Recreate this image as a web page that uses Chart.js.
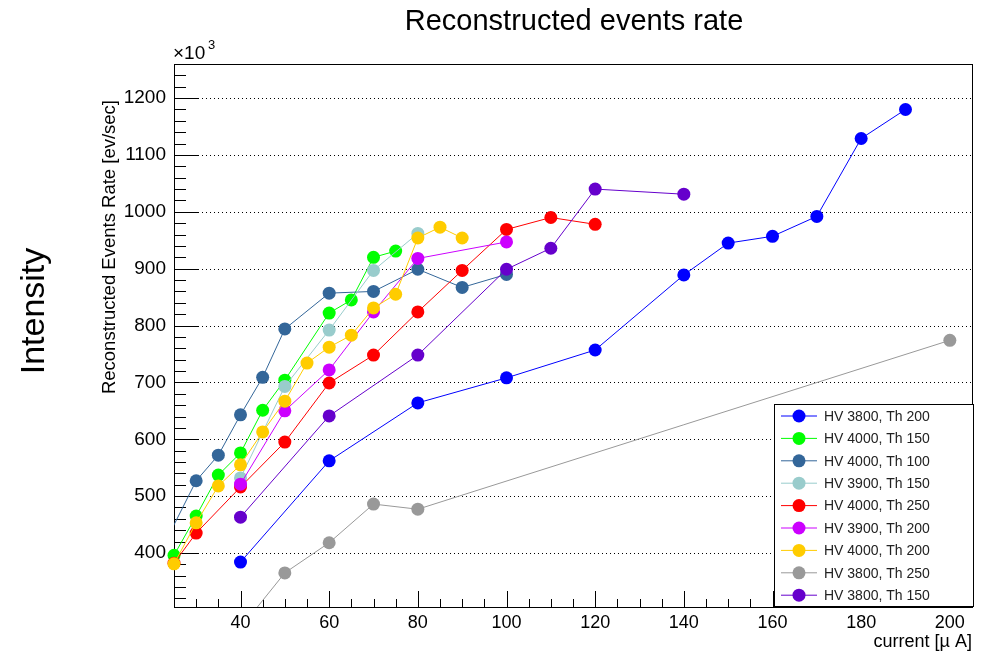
<!DOCTYPE html>
<html>
<head>
<meta charset="utf-8">
<script src="https://cdn.jsdelivr.net/npm/chart.js@4.4.0/dist/chart.umd.min.js"></script>
<style>
    html, body { margin: 0; padding: 0; background: #fff; }
    #wrap { width: 990px; height: 657px; }
</style>
</head>
<body>
<div id="wrap"><canvas id="rateChart" width="990" height="657"></canvas></div>
<script>
// Valeurs (courant en µA, taux en 10^3 ev/sec)
const curHV3800Th200 = [40, 60, 80, 100, 120, 140, 150, 160, 170, 180, 190];
const rateHV3800Th200 = [384, 562, 664, 708, 757, 889, 945, 957, 992, 1129, 1180];

const curHV4000Th150 = [25, 30, 35, 40, 45, 50, 60, 65, 70, 75];
const rateHV4000Th150 = [396, 465, 537, 576, 651, 704, 822, 845, 920, 931];

const curHV4000Th100 = [20, 30, 35, 40, 45, 50, 60, 70, 80, 90, 100];
const rateHV4000Th100 = [372, 527, 572, 643, 709, 794, 857, 860, 899, 867, 890];

const curHV3900Th150 = [40, 50, 60, 70, 80];
const rateHV3900Th150 = [532, 693, 792, 897, 962];

const curHV4000Th250 = [25, 30, 40, 50, 60, 70, 80, 90, 100, 110, 120];
const rateHV4000Th250 = [382, 435, 516, 595, 699, 748, 824, 897, 969, 990, 978];

const curHV3900Th200 = [40, 50, 60, 70, 80, 100];
const rateHV3900Th200 = [521, 650, 722, 824, 918, 947];

const curHV4000Th200 = [25, 30, 35, 40, 45, 50, 55, 60, 65, 70, 75, 80, 85, 90];
const rateHV4000Th200 = [381, 453, 518, 555, 613, 667, 734, 762, 783, 831, 855, 954, 973, 954];

const curHV3800Th250 = [40, 50, 60, 70, 80, 200];
const rateHV3800Th250 = [268, 365, 418, 486, 477, 774];

const curHV3800Th150 = [40, 60, 80, 100, 110, 120, 140];
const rateHV3800Th150 = [463, 641, 748, 899, 936, 1040, 1031];

const seriesLabels = [
    'HV 3800, Th 200', 'HV 4000, Th 150', 'HV 4000, Th 100',
    'HV 3900, Th 150', 'HV 4000, Th 250', 'HV 3900, Th 200',
    'HV 4000, Th 200', 'HV 3800, Th 250', 'HV 3800, Th 150'
];
const seriesCurrents = [
    curHV3800Th200, curHV4000Th150, curHV4000Th100, curHV3900Th150, curHV4000Th250,
    curHV3900Th200, curHV4000Th200, curHV3800Th250, curHV3800Th150
];
const seriesRates = [
    rateHV3800Th200, rateHV4000Th150, rateHV4000Th100, rateHV3900Th150, rateHV4000Th250,
    rateHV3900Th200, rateHV4000Th200, rateHV3800Th250, rateHV3800Th150
];
const seriesColors = [
    '#0000ff', '#00ff00', '#336699', '#99cccc', '#ff0000',
    '#cc00ff', '#ffcc00', '#999999', '#6600cc'
];

// Graduations étiquetées
const xTickValues = [40, 60, 80, 100, 120, 140, 160, 180, 200];
const yTickValues = [400, 500, 600, 700, 800, 900, 1000, 1100, 1200];

const X_MIN = 25, X_MAX = 205;
const Y_MIN = 305, Y_MAX = 1260;
const FONT = '"Liberation Sans", Arial, Helvetica, sans-serif';

// Construction des datasets (le dernier est dessiné au-dessus, comme dans ROOT)
const datasets = seriesLabels.map((label, i) => {
    const pts = seriesCurrents[i].map((c, k) => ({ x: c, y: seriesRates[i][k] }));
    const outside = pts.some(p => p.x < X_MIN || p.y < Y_MIN);
    return {
        label: label,
        data: pts,
        borderColor: seriesColors[i],
        backgroundColor: seriesColors[i],
        pointBackgroundColor: seriesColors[i],
        pointBorderColor: seriesColors[i],
        borderWidth: 1,
        pointRadius: 6.5,
        pointBorderWidth: 0,
        pointHoverRadius: 6.5,
        tension: 0,
        fill: false,
        order: -i,
        clip: outside ? 0 : false
    };
});

// Cadre, graduations, grille pointillée, légende et textes façon ROOT
const rootStyle = {
    id: 'rootStyle',
    beforeDatasetsDraw(chart) {
        const ctx = chart.ctx;
        const area = chart.chartArea;
        const xs = chart.scales.x;
        const ys = chart.scales.y;
        ctx.save();

        // grille horizontale pointillée
        ctx.strokeStyle = '#000';
        ctx.lineWidth = 1;
        ctx.setLineDash([1, 3]);
        yTickValues.forEach(v => {
            const y = Math.round(ys.getPixelForValue(v)) + 0.5;
            ctx.beginPath();
            ctx.moveTo(area.left, y);
            ctx.lineTo(area.right, y);
            ctx.stroke();
        });
        ctx.setLineDash([]);

        // graduations axe Y
        ctx.beginPath();
        for (let v = 320; v <= Y_MAX; v += 20) {
            const y = Math.round(ys.getPixelForValue(v)) + 0.5;
            const len = (v % 100 === 0) ? 25 : 12;
            ctx.moveTo(area.left, y);
            ctx.lineTo(area.left + len, y);
        }
        // graduations axe X
        for (let v = 30; v <= X_MAX; v += 5) {
            const x = Math.round(xs.getPixelForValue(v)) + 0.5;
            const len = (v % 20 === 0) ? 16 : 8;
            ctx.moveTo(x, area.bottom);
            ctx.lineTo(x, area.bottom - len);
        }
        ctx.stroke();

        // cadre
        ctx.strokeRect(Math.round(area.left) + 0.5, Math.round(area.top) + 0.5,
            Math.round(area.right - area.left), Math.round(area.bottom - area.top));
        ctx.restore();
    },
    afterDraw(chart) {
        const ctx = chart.ctx;
        const area = chart.chartArea;
        ctx.save();

        // titre
        ctx.fillStyle = '#000';
        ctx.textAlign = 'center';
        ctx.textBaseline = 'alphabetic';
        ctx.font = '29px ' + FONT;
        ctx.fillText('Reconstructed events rate', 574, 30);

        // facteur x10^3
        ctx.textAlign = 'left';
        ctx.font = '19px ' + FONT;
        ctx.fillText('\u00d710', area.left - 1, 59);
        ctx.font = '13px ' + FONT;
        ctx.fillText('3', area.left + 34, 49);

        // titre de l'axe Y
        ctx.save();
        ctx.translate(110, 100);
        ctx.rotate(-Math.PI / 2);
        ctx.textAlign = 'right';
        ctx.textBaseline = 'middle';
        ctx.font = '18.5px ' + FONT;
        ctx.fillText('Reconstructed Events Rate [ev/sec]', 0, 0);
        ctx.restore();

        // "Intensity"
        ctx.save();
        ctx.translate(35, 311);
        ctx.rotate(-Math.PI / 2);
        ctx.textAlign = 'center';
        ctx.textBaseline = 'middle';
        ctx.font = '34px ' + FONT;
        ctx.fillText('Intensity', 0, 0);
        ctx.restore();

        // légende
        const lx = 774, ly = 404, lw = 199, lh = 202;
        ctx.fillStyle = '#fff';
        ctx.fillRect(lx, ly, lw, lh);
        ctx.strokeStyle = '#000';
        ctx.lineWidth = 1;
        ctx.strokeRect(lx + 0.5, ly + 0.5, lw, lh);
        ctx.font = '14px ' + FONT;
        ctx.textAlign = 'left';
        ctx.textBaseline = 'middle';
        chart.data.datasets.forEach((ds, i) => {
            const y = ly + 12 + i * 22.4;
            ctx.strokeStyle = ds.borderColor;
            ctx.beginPath();
            ctx.moveTo(lx + 7, y);
            ctx.lineTo(lx + 43, y);
            ctx.stroke();
            ctx.fillStyle = ds.pointBackgroundColor;
            ctx.beginPath();
            ctx.arc(lx + 25, y, 6.5, 0, Math.PI * 2);
            ctx.fill();
            ctx.fillStyle = '#222';
            ctx.fillText(ds.label, lx + 50, y + 1);
        });
        ctx.restore();
    }
};

const ctx = document.getElementById('rateChart').getContext('2d');
window.myChart = new Chart(ctx, {
    type: 'line',
    data: { datasets: datasets },
    plugins: [rootStyle],
    options: {
        responsive: false,
        animation: false,
        devicePixelRatio: 1,
        layout: { padding: { top: 64, right: 18, left: 0, bottom: 0 } },
        plugins: {
            legend: { display: false },
            title: { display: false },
            tooltip: { enabled: false }
        },
        scales: {
            x: {
                type: 'linear',
                min: X_MIN,
                max: X_MAX,
                grid: { display: false, drawTicks: false },
                border: { display: false },
                afterBuildTicks: scale => { scale.ticks = xTickValues.map(v => ({ value: v })); },
                ticks: {
                    maxRotation: 0,
                    autoSkip: false,
                    padding: 5,
                    color: '#000',
                    font: { family: FONT, size: 18 },
                    callback: v => String(v)
                },
                title: {
                    display: true,
                    text: 'current [\u00b5 A]',
                    align: 'end',
                    color: '#000',
                    font: { family: FONT, size: 18 },
                    padding: { top: 0, bottom: 4 }
                },
                afterFit: scale => { scale.height = 50; }
            },
            y: {
                type: 'linear',
                min: Y_MIN,
                max: Y_MAX,
                grid: { display: false, drawTicks: false },
                border: { display: false },
                afterBuildTicks: scale => { scale.ticks = yTickValues.map(v => ({ value: v })); },
                ticks: {
                    autoSkip: false,
                    padding: 8,
                    color: '#000',
                    font: { family: FONT, size: 19 },
                    callback: v => String(v)
                },
                afterFit: scale => { scale.width = 174; }
            }
        }
    }
});
</script>
</body>
</html>
